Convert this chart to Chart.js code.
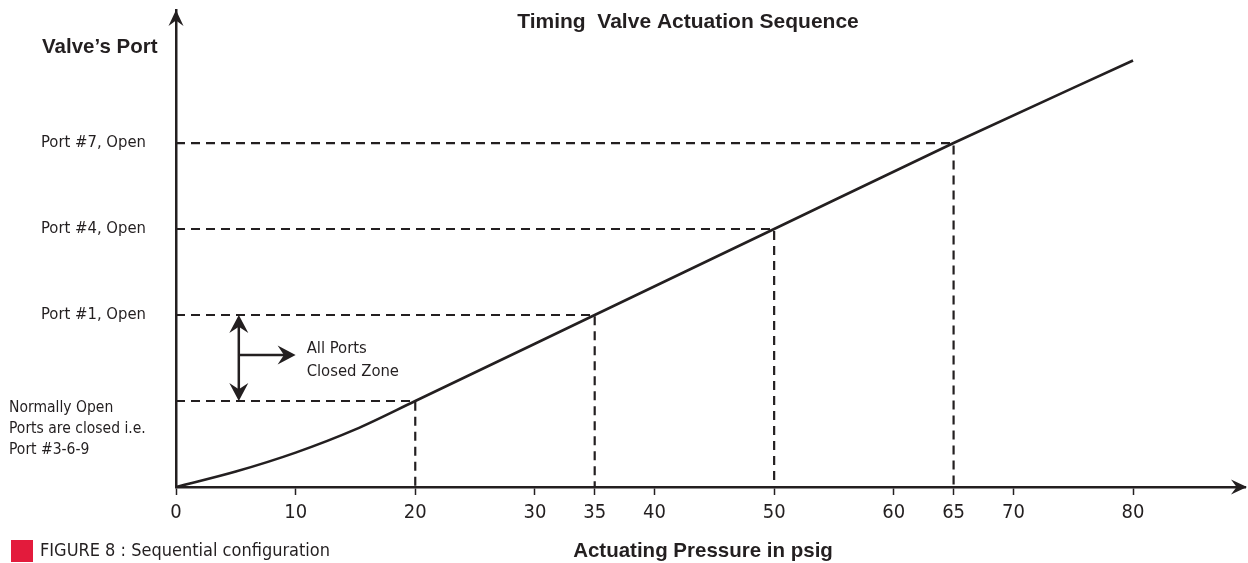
<!DOCTYPE html>
<html>
<head>
<meta charset="utf-8">
<script src="https://cdn.jsdelivr.net/npm/chart.js@4.4.1/dist/chart.umd.min.js"></script>
<style>
html,body{margin:0;padding:0;background:#fff;}
canvas{display:block;}
</style>
</head>
<body>
<canvas id="c" width="1248" height="563"></canvas>
<script>
// ---- data ----
const xTickValues = [0, 10, 20, 30, 35, 40, 50, 60, 65, 70, 80];
const curveX = [0, 5, 10, 15, 20, 35, 50, 65, 80];
const curveY = [0, 0.18, 0.40, 0.67, 1, 2, 3, 4, 4.96];
const levelX = [20, 35, 50, 65];
const levelY = [1, 2, 3, 4];
const yTickValues = [2, 3, 4];
const yTickLabels = ['Port #1, Open', 'Port #4, Open', 'Port #7, Open'];
const normallyOpenLines = ['Normally Open', 'Ports are closed i.e.', 'Port #3-6-9'];
const zoneLines = ['All Ports', 'Closed Zone'];
const chartTitle = 'Timing  Valve Actuation Sequence';
const yAxisTitle = 'Valve\u2019s Port';
const xAxisTitle = 'Actuating Pressure in psig';
const figureCaption = 'FIGURE 8 : Sequential configuration';

const INK = '#231f20';
const RED = '#e31b3c';
const NARROW = '"Liberation Sans Narrow", "Arial Narrow", "DejaVu Sans Condensed", "Open Sans", sans-serif';
const BOLD = '"Liberation Sans", "Open Sans", sans-serif';

const curveData = curveX.map((x, i) => ({x, y: curveY[i]}));
const dashSets = levelX.map((x, i) => ({
  data: [{x: 0, y: levelY[i]}, {x, y: levelY[i]}, {x, y: 0}],
  borderColor: INK, borderWidth: 2.2, borderDash: [9, 6], pointRadius: 0, tension: 0, fill: false
}));

function arrowHead(ctx, tx, ty, angle, len, hw) {
  const c = Math.cos(angle), s = Math.sin(angle);
  const bx = tx - c * len, by = ty - s * len;
  const nx = tx - c * len * 0.65, ny = ty - s * len * 0.65;
  ctx.beginPath();
  ctx.moveTo(tx, ty);
  ctx.lineTo(bx - s * hw, by + c * hw);
  ctx.lineTo(nx, ny);
  ctx.lineTo(bx + s * hw, by - c * hw);
  ctx.closePath();
  ctx.fill();
}

const decor = {
  id: 'decor',
  afterDraw(chart) {
    const ctx = chart.ctx, xs = chart.scales.x, ys = chart.scales.y, a = chart.chartArea;
    ctx.save();
    ctx.fillStyle = INK; ctx.strokeStyle = INK;
    // axis arrows
    arrowHead(ctx, a.left, a.top, -Math.PI / 2, 16, 7.5);
    arrowHead(ctx, a.right + 2, a.bottom, 0, 16, 7.5);
    // closed zone arrows
    const ax = xs.getPixelForValue(5.25);
    const y1 = ys.getPixelForValue(2), y0 = ys.getPixelForValue(1);
    const ym = ys.getPixelForValue(1.535);
    const axEnd = xs.getPixelForValue(10.0);
    ctx.lineWidth = 2.5;
    ctx.beginPath();
    ctx.moveTo(ax, y1 + 6); ctx.lineTo(ax, y0 - 6);
    ctx.moveTo(ax, ym); ctx.lineTo(axEnd - 6, ym);
    ctx.stroke();
    arrowHead(ctx, ax, y1, -Math.PI / 2, 18, 9.5);
    arrowHead(ctx, ax, y0, Math.PI / 2, 18, 9.5);
    arrowHead(ctx, axEnd, ym, 0, 18, 9.5);
    // zone text
    ctx.font = '16.5px ' + NARROW;
    ctx.textAlign = 'left'; ctx.textBaseline = 'middle';
    ctx.fillText(zoneLines[0], axEnd + 11, ym - 6);
    ctx.fillText(zoneLines[1], axEnd + 11, ym + 17);
    // normally open text
    const nb = ys.getPixelForValue(1);
    ctx.font = '15.5px ' + NARROW;
    normallyOpenLines.forEach((t, i) => ctx.fillText(t, 9, nb + 7 + i * 21));
    // titles
    ctx.font = 'bold 21px ' + BOLD;
    ctx.textAlign = 'center';
    ctx.fillText(chartTitle, 688, 22);
    ctx.font = 'bold 20.5px ' + BOLD;
    ctx.fillText(xAxisTitle, 703, 551);
    ctx.textAlign = 'left';
    ctx.fillText(yAxisTitle, 42, 47);
    // caption
    ctx.fillStyle = RED;
    ctx.fillRect(11, 540, 22, 22);
    ctx.fillStyle = INK;
    ctx.font = '18px ' + NARROW;
    ctx.fillText(figureCaption, 40, 551);
    ctx.restore();
  }
};

new Chart(document.getElementById('c'), {
  type: 'line',
  data: {
    datasets: [
      {data: curveData, borderColor: INK, borderWidth: 2.6, pointRadius: 0, cubicInterpolationMode: 'monotone', fill: false},
      ...dashSets
    ]
  },
  options: {
    responsive: false,
    animation: false,
    devicePixelRatio: 1,
    layout: {padding: {top: 10, right: 3, left: 0, bottom: 0}},
    plugins: {legend: {display: false}, tooltip: {enabled: false}, title: {display: false}},
    scales: {
      x: {
        type: 'linear', min: 0, max: 89.36,
        afterFit(s) { s.height = 76; s.paddingLeft = 0; s.paddingRight = 0; },
        afterBuildTicks(s) { s.ticks = xTickValues.map(v => ({value: v})); },
        grid: {drawOnChartArea: false, drawTicks: true, tickLength: 8, tickWidth: 1.5, tickColor: INK},
        border: {display: true, color: INK, width: 2.5},
        ticks: {color: INK, font: {family: NARROW, size: 20}, padding: 6, autoSkip: false, maxRotation: 0}
      },
      y: {
        type: 'linear', min: 0, max: 5.547,
        afterFit(s) { s.width = 176; s.paddingTop = 0; s.paddingBottom = 0; },
        afterBuildTicks(s) { s.ticks = yTickValues.map(v => ({value: v})); },
        grid: {display: false},
        border: {display: true, color: INK, width: 2.5},
        ticks: {color: INK, font: {family: NARROW, size: 16.5}, padding: 22,
          callback: (v) => yTickLabels[yTickValues.indexOf(v)]}
      }
    }
  },
  plugins: [decor]
});
</script>
</body>
</html>
